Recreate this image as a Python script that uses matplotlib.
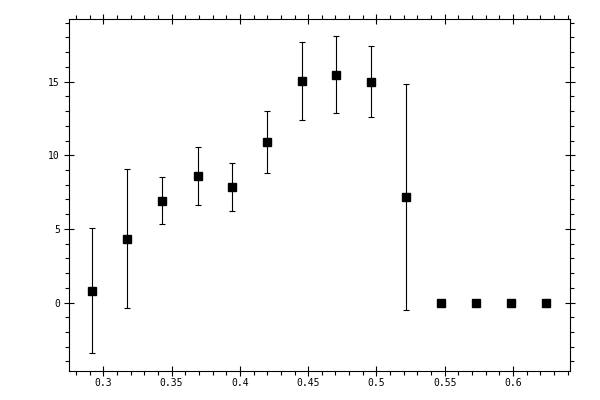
import matplotlib
matplotlib.use("Agg")
import matplotlib.pyplot as plt
from matplotlib.ticker import MultipleLocator, FixedLocator

x = [0.2920, 0.3177, 0.3433, 0.3690, 0.3946, 0.4202, 0.4458,
     0.4707, 0.4963, 0.5219, 0.5475, 0.5731, 0.5987, 0.6243]
y = [0.81, 4.32, 6.90, 8.58, 7.84, 10.88, 15.05,
     15.47, 15.00, 7.16, 0.0, 0.0, 0.0, 0.0]
err = [4.22, 4.72, 1.59, 1.97, 1.62, 2.10, 2.67,
       2.60, 2.40, 7.68, 0.0, 0.0, 0.0, 0.0]
xticks = [0.3, 0.35, 0.4, 0.45, 0.5, 0.55, 0.6]
xticklabels = ["0.3", "0.35", "0.4", "0.45", "0.5", "0.55", "0.6"]
yticks = [0, 5, 10, 15]
yticklabels = ["0", "5", "10", "15"]

fig = plt.figure(figsize=(6, 4), dpi=100)
ax = fig.add_axes([0.115, 0.0725, 0.835, 0.88])

ax.errorbar(x, y, yerr=err, fmt="s", color="black", markersize=5.2,
            elinewidth=0.8, capsize=2.0, capthick=0.8, ecolor="black")

ax.set_xlim(0.2749, 0.6417)
ax.set_ylim(-4.65, 19.25)

ax.xaxis.set_major_locator(FixedLocator(xticks))
ax.set_xticklabels(xticklabels)
ax.xaxis.set_minor_locator(MultipleLocator(0.01))
ax.yaxis.set_major_locator(FixedLocator(yticks))
ax.set_yticklabels(yticklabels)
ax.yaxis.set_minor_locator(MultipleLocator(1))

for s in ax.spines.values():
    s.set_linewidth(0.8)

ax.tick_params(which="major", direction="inout", length=7, width=0.8,
               top=True, right=True, labelsize=7, pad=3)
ax.tick_params(axis="x", which="major", pad=1.5)
ax.tick_params(which="minor", direction="out", length=3, width=0.8,
               top=True, right=True)
for lab in ax.get_xticklabels() + ax.get_yticklabels():
    lab.set_family("DejaVu Sans Mono")

fig.savefig("out.png", dpi=100)
